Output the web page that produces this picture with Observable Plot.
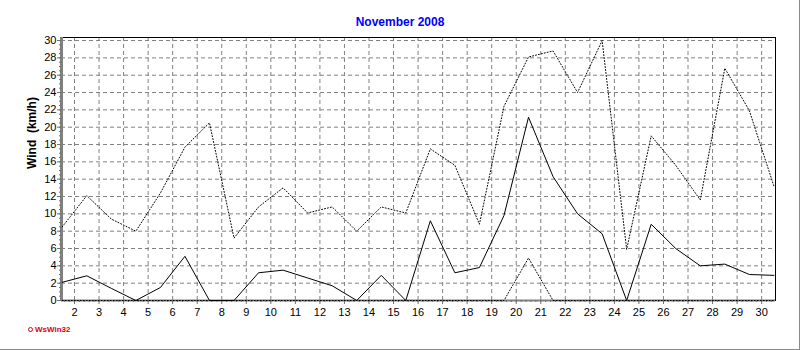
<!DOCTYPE html>
<html><head><meta charset="utf-8">
<script src="https://cdn.jsdelivr.net/npm/d3@7"></script>
<script src="https://cdn.jsdelivr.net/npm/@observablehq/plot@0.6"></script>
<style>
body{margin:0;background:#fff;}
#wrap{position:relative;width:800px;height:350px;overflow:hidden;background:#fff;}
#title{position:absolute;left:0;width:800px;top:15px;text-align:center;font:bold 12px "Liberation Sans Narrow","Liberation Sans",Arial,sans-serif;font-stretch:condensed;color:#0000ff;}
#credit{position:absolute;left:28px;top:325px;font:bold 8px "Liberation Sans",Arial,sans-serif;color:#e00000;white-space:nowrap;}
#credit .dot{display:inline-block;width:3px;height:3px;border:1.5px solid #e00000;border-radius:50%;margin-right:2px;vertical-align:0px;}
#border{position:absolute;left:0;top:0;width:800px;height:350px;box-sizing:border-box;border-right:1px solid #8a8a8a;border-bottom:1px solid #8a8a8a;pointer-events:none;}
#chart{position:absolute;left:0;top:0;}
</style></head>
<body>
<div id="wrap">
  <div id="chart"></div>
  <div id="title">November 2008</div>
  <div id="credit"><span class="dot"></span>WsWin32</div>
  <div id="border"></div>
</div>
<script>
const days = [1,2,3,4,5,6,7,8,9,10,11,12,13,14,15,16,17,18,19,20,21,22,23,24,25,26,27,28,29,30];
const gust = [8.5,12.1,9.4,8.0,12.4,17.7,20.5,7.2,10.8,13.0,10.1,10.8,8.0,10.8,10.1,17.5,15.6,8.8,22.4,28.1,28.8,24.0,30.0,5.9,19.0,15.6,11.6,26.8,21.9,13.2];
const mean = [2.1,2.85,1.4,0,1.5,5.1,0,0,3.2,3.5,2.6,1.7,0,2.9,0,9.2,3.2,3.8,9.8,21.15,14.3,10.0,7.7,0,8.8,6.0,4.0,4.2,3.0,2.9];
const low  = [0,0,0,0,0,0,0,0,0,0,0,0,0,0,0,0,0,0,0,4.9,0,0,0,0,0,0,0,0,0,0];
const xTicks = [2,3,4,5,6,7,8,9,10,11,12,13,14,15,16,17,18,19,20,21,22,23,24,25,26,27,28,29,30];
const yTicks = [0,2,4,6,8,10,12,14,16,18,20,22,24,26,28,30];
const yLabel = "Wind\u00A0 (km/h)";

const data = days.map((d, i) => ({day: d, gust: gust[i], mean: mean[i], low: low[i]}));
const X0 = 1.47, X1 = 30.565, Y1 = 30.35;
const xMinor = d3.range(0, 146).map(i => 1.6 + i * 0.2).filter(v => v <= X1);
const yMinor = d3.range(0, 61).map(i => i * 0.5);
const grid = {stroke: "#808080", strokeOpacity: 1, strokeDasharray: "4,3", strokeWidth: 1};
const xPos = d => d.day + 0.5;

const chart = Plot.plot({
  width: 800, height: 350,
  marginLeft: 61, marginRight: 25, marginTop: 37, marginBottom: 50,
  style: {fontFamily: "'Liberation Sans', Arial, sans-serif", fontSize: "11px", color: "black", background: "transparent", overflow: "visible"},
  x: {domain: [X0, X1]},
  y: {domain: [0, Y1]},
  marks: [
    Plot.gridX({ticks: xTicks, ...grid}),
    Plot.gridY({ticks: yTicks.filter(v => v > 0), ...grid}),
    Plot.frame({stroke: "black", strokeWidth: 1}),
    Plot.ruleX([X0], {stroke: "#808080", strokeWidth: 3}),
    Plot.ruleY([0], {stroke: "#808080", strokeWidth: 2}),
    Plot.axisX({ticks: xMinor, tickSize: 2, text: null, stroke: "#707070", tickPadding: 0, label: null}),
    Plot.axisX({ticks: xTicks, tickSize: 4, tickPadding: 4, stroke: "#707070", fill: "black", label: null, tickFormat: d => String(d)}),
    Plot.axisY({ticks: yMinor, tickSize: 2, text: null, stroke: "#707070", label: null}),
    Plot.axisY({ticks: yTicks, tickSize: 4, tickPadding: 1, stroke: "#707070", fill: "black", label: null, tickFormat: d => String(d)}),
    Plot.line(data, {x: xPos, y: "gust", stroke: "black", strokeWidth: 1, strokeDasharray: "1,2"}),
    Plot.line(data, {x: xPos, y: "low", stroke: "black", strokeWidth: 1, strokeDasharray: "1,2"}),
    Plot.line(data, {x: xPos, y: "mean", stroke: "black", strokeWidth: 1}),
    Plot.text([yLabel], {frameAnchor: "left", dx: -29, rotate: -90, fontWeight: "bold", fontSize: 12, fill: "black"})
  ]
});
document.getElementById("chart").appendChild(chart);
</script>
</body></html>
